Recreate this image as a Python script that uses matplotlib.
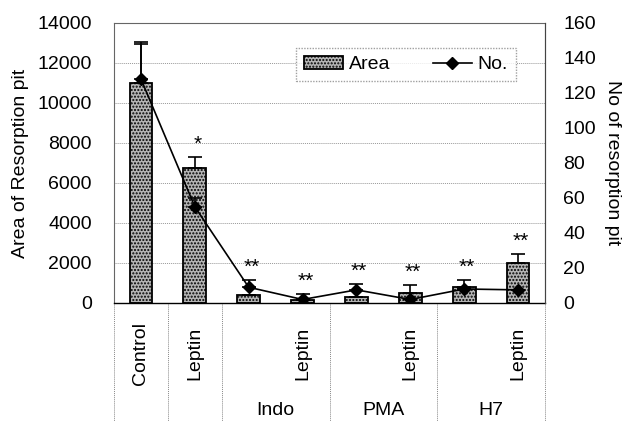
import numpy as np
import matplotlib
matplotlib.use("Agg")
import matplotlib.pyplot as plt
from matplotlib.lines import Line2D

categories = ["Control", "Leptin", "", "Leptin", "", "Leptin", "", "Leptin"]
groups = ["Indo", "PMA", "H7"]
area = [11000, 6750, 400, 150, 300, 500, 800, 2000]
area_err = [2050, 550, 0, 0, 0, 400, 350, 450]
number = [128, 55, 9, 2, 7.5, 2, 8, 7.5]
number_err = [20, 5, 4, 3, 3.5, 0, 0, 0]
stars = ["", "*", "**", "**", "**", "**", "**", "**"]

plt.rcParams['font.family'] = ['Liberation Sans', 'DejaVu Sans']
fs = 14

fig = plt.figure(figsize=(6.25, 4.21), dpi=100)
ax = fig.add_axes([0.1824, 0.2803, 0.6896, 0.6651])
ax2 = ax.twinx()

x = np.arange(len(categories))
ax.set_xlim(-0.5, len(categories) - 0.5)
ax.set_ylim(0, 14000)
ax2.set_ylim(0, 160)

for yv in range(2000, 14001, 2000):
    ax.axhline(yv, color='#999999', lw=0.7, ls=(0, (1, 1)), zorder=0)

ax.bar(x, area, width=0.42, facecolor='#b5b5b5', edgecolor='black', lw=1.3,
       hatch='.....', zorder=2, label='Area')
ax.errorbar(x, area, yerr=[np.zeros(len(area)), area_err], fmt='none',
            ecolor='black', elinewidth=1.2, capsize=5, capthick=1.2, zorder=3)

ax2.plot(x, number, color='black', marker='D', markersize=6, lw=1.2, zorder=4)
ax2.errorbar(x, number, yerr=[np.zeros(len(number)), number_err], fmt='none',
             ecolor='black', elinewidth=1.2, capsize=5, capthick=1.2, zorder=4)

scale = 14000 / 160
for xi, a, e, s in zip(x, area, area_err, stars):
    top = max(a + e, (number[xi] + number_err[xi]) * scale)
    ax.text(xi + 0.05, top + 150, s, ha='center', va='bottom', fontsize=fs + 1)

ax.set_xticks([])
ax.set_yticks(range(0, 14001, 2000))
ax2.set_yticks(range(0, 161, 20))
ax.tick_params(axis='y', labelsize=fs, length=0, pad=16)
ax2.tick_params(axis='y', labelsize=fs, length=0, pad=13)
for sp in ['top', 'right', 'left']:
    ax.spines[sp].set_color('#666666')
    ax.spines[sp].set_linewidth(0.8)
ax2.spines['right'].set_color('#444444')
ax2.spines['top'].set_visible(False)
ax2.spines['left'].set_visible(False)
ax2.spines['bottom'].set_visible(False)
ax.spines['bottom'].set_linewidth(1.0)

ax.set_ylabel("Area of Resorption pit", fontsize=fs, labelpad=6)
ax2.set_ylabel("No of resorption pit", fontsize=fs, rotation=270, labelpad=18)

# two-level category axis
trans = ax.get_xaxis_transform()
for xi, c in zip(x, categories):
    if c:
        ax.text(xi, -0.18, c, rotation=90, ha='center', va='center',
                fontsize=fs, transform=trans, clip_on=False)
for gi, g in enumerate(groups):
    ax.text(2.5 + 2 * gi, -0.385, g, ha='center', va='center', fontsize=fs,
            transform=trans, clip_on=False)
for bx in [-0.5, 0.5, 1.5, 3.5, 5.5, 7.5]:
    ax.add_line(Line2D([bx, bx], [0, -0.42], transform=trans, color='#888888',
                       lw=0.7, ls=(0, (1, 1)), clip_on=False))

handles = [plt.Rectangle((0, 0), 1, 1, facecolor='#b5b5b5', edgecolor='black',
                         hatch='.....', lw=1.3),
           Line2D([], [], color='black', marker='D', markersize=6, lw=1.2)]
leg = ax.legend(handles, ["Area", "No."], ncol=2, loc='upper left',
                bbox_to_anchor=(0.40, 0.945), fontsize=fs, frameon=True,
                fancybox=False, edgecolor='#888888', handlelength=2.0,
                handletextpad=0.3, columnspacing=2.2, borderpad=0.4)
leg.get_frame().set_linestyle((0, (1, 1)))
leg.set_zorder(10)

fig.savefig("out.png", dpi=100)
